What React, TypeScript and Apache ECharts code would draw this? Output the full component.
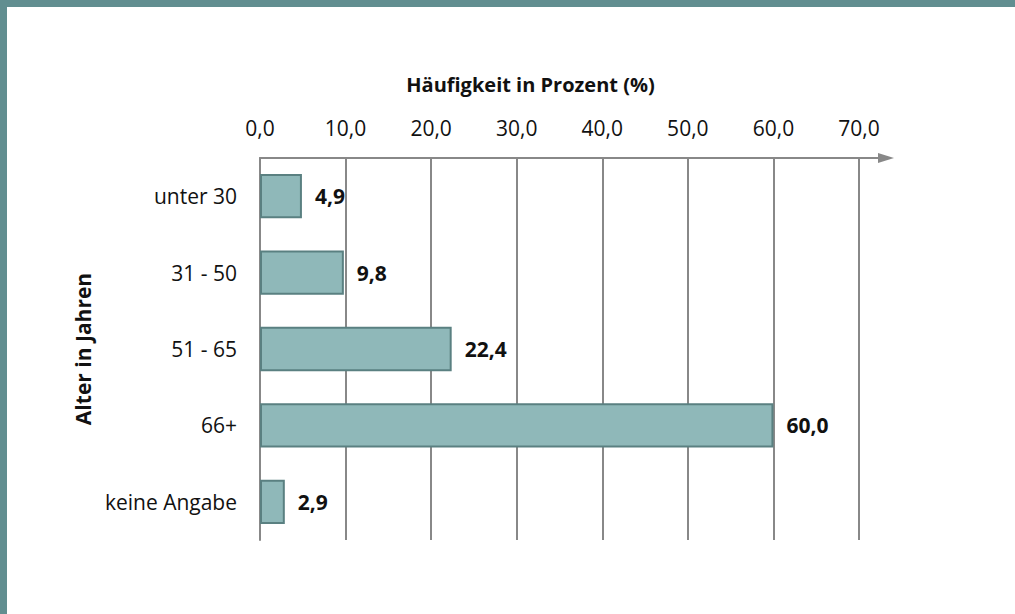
import React, { useEffect, useRef } from "react";
import * as echarts from "echarts";

const categories = ["unter 30", "31 - 50", "51 - 65", "66+", "keine Angabe"];
const values = [4.9, 9.8, 22.4, 60.0, 2.9];
const xTicks = { min: 0, max: 70, interval: 10 };
const xAxisTitle = "Häufigkeit in Prozent (%)";
const yAxisTitle = "Alter in Jahren";

const fmt = (v: number) => v.toFixed(1).replace(".", ",");

export default function App() {
  const ref = useRef<HTMLDivElement>(null);
  useEffect(() => {
    document.body.style.margin = "0";
    const chart = echarts.init(ref.current!, null, { renderer: "svg" });
    const font = "'Open Sans', sans-serif";
    const gridLeft = 260;
    const gridRight = 156;
    const gridTop = 158;
    const W = 1015;
    chart.setOption({
      animation: false,
      backgroundColor: "#ffffff",
      textStyle: { fontFamily: font },
      grid: { left: gridLeft, right: gridRight, top: gridTop, bottom: 74, containLabel: false },
      xAxis: {
        type: "value",
        position: "top",
        min: xTicks.min,
        max: xTicks.max,
        interval: xTicks.interval,
        name: xAxisTitle,
        nameLocation: "middle",
        nameGap: 64,
        nameTextStyle: {
          fontFamily: font,
          fontSize: 20,
          fontWeight: "bold",
          color: "#111",
          padding: [0, 58, 0, 0],
        },
        axisLine: { show: true, lineStyle: { color: "#888", width: 2 } },
        axisTick: { show: false },
        axisLabel: { formatter: fmt, fontFamily: font, fontSize: 21, color: "#111", margin: 20 },
        splitLine: { show: true, lineStyle: { color: "#888", width: 2 } },
      },
      yAxis: {
        type: "category",
        data: categories,
        inverse: true,
        name: yAxisTitle,
        nameLocation: "middle",
        nameRotate: 90,
        nameGap: 163,
        nameTextStyle: { fontFamily: font, fontSize: 21, fontWeight: "bold", color: "#111" },
        axisLine: { show: true, lineStyle: { color: "#888", width: 2 } },
        axisTick: { show: false },
        axisLabel: { fontFamily: font, fontSize: 21, color: "#111", margin: 23 },
        splitLine: { show: false },
      },
      series: [
        {
          type: "bar",
          data: values,
          barWidth: "58%",
          itemStyle: { color: "#8fb8b9", borderColor: "#5a8081", borderWidth: 2 },
          label: {
            show: true,
            position: "right",
            distance: 13,
            formatter: (p: any) => fmt(p.value),
            fontFamily: font,
            fontSize: 21,
            fontWeight: "bold",
            color: "#111",
          },
        },
      ],
      graphic: [
        { type: "rect", shape: { x: 0, y: 0, width: W, height: 7 }, style: { fill: "#618e90" }, z: 100 },
        { type: "rect", shape: { x: 0, y: 0, width: 7, height: 614 }, style: { fill: "#618e90" }, z: 100 },
        {
          type: "line",
          shape: { x1: W - gridRight, y1: gridTop, x2: 882, y2: gridTop },
          style: { stroke: "#888", lineWidth: 2 },
          z: 100,
        },
        {
          type: "polygon",
          shape: { points: [[878, gridTop - 5], [894, gridTop], [878, gridTop + 5]] },
          style: { fill: "#888" },
          z: 100,
        },
      ],
    });
    return () => chart.dispose();
  }, []);
  return <div ref={ref} style={{ width: 1015, height: 614 }} />;
}
